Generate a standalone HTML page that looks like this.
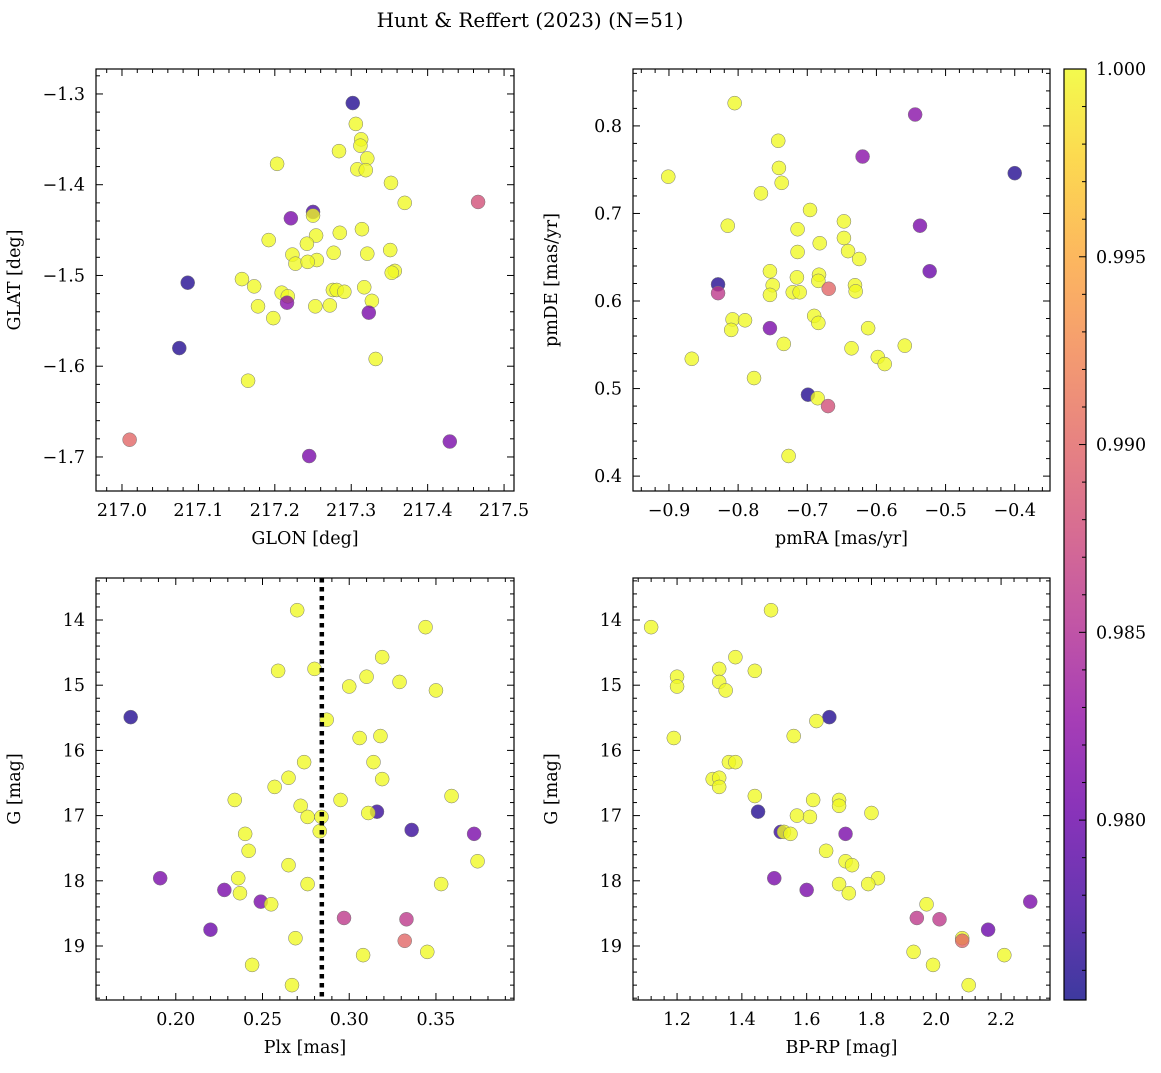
<!DOCTYPE html>
<html><head><meta charset="utf-8"><style>
body{margin:0;background:#fff}
svg text{font-family:"DejaVu Serif","Liberation Serif",serif;fill:#000}
</style></head><body>
<svg id="fig" width="1161" height="1068" xmlns="http://www.w3.org/2000/svg">
<defs><linearGradient id="cg" x1="0" y1="1" x2="0" y2="0">
<stop offset="0" stop-color="#0d0887"/><stop offset="0.1" stop-color="#41049d"/><stop offset="0.2" stop-color="#6a00a8"/><stop offset="0.3" stop-color="#8f0da4"/><stop offset="0.4" stop-color="#b12a90"/><stop offset="0.5" stop-color="#cc4778"/><stop offset="0.6" stop-color="#e16462"/><stop offset="0.7" stop-color="#f2844b"/><stop offset="0.8" stop-color="#fca636"/><stop offset="0.9" stop-color="#fcce25"/><stop offset="1" stop-color="#f0f921"/></linearGradient></defs>
<text x="530" y="27" font-size="20" text-anchor="middle">Hunt &amp; Reffert (2023) (N=51)</text>
</svg>
<script>
// ---- data ----
const glon=[217.302,217.306,217.313,217.312,217.284,217.321,217.308,217.319,217.203,217.352,217.370,217.466,217.250,217.250,217.221,217.314,217.285,217.254,217.242,217.192,217.321,217.351,217.277,217.223,217.255,217.227,217.243,217.357,217.353,217.157,217.086,217.173,217.317,217.276,217.281,217.291,217.209,217.217,217.327,217.216,217.178,217.253,217.272,217.198,217.323,217.075,217.332,217.165,217.010,217.429,217.245];
const glat=[-1.310,-1.333,-1.350,-1.357,-1.363,-1.371,-1.383,-1.384,-1.377,-1.398,-1.420,-1.419,-1.430,-1.434,-1.437,-1.449,-1.453,-1.456,-1.465,-1.461,-1.476,-1.472,-1.475,-1.477,-1.483,-1.487,-1.485,-1.495,-1.497,-1.504,-1.508,-1.512,-1.513,-1.516,-1.516,-1.518,-1.519,-1.523,-1.528,-1.530,-1.534,-1.534,-1.533,-1.547,-1.541,-1.580,-1.592,-1.616,-1.681,-1.683,-1.699];
const probTL=[.976,1,1,1,1,1,1,1,1,1,1,.988,.978,1,.981,1,1,1,1,1,1,1,1,1,1,1,1,1,1,1,.976,1,1,1,1,1,1,1,1,.982,1,1,1,1,.981,.976,1,1,.990,.981,.981];
const pmra=[-0.805,-0.544,-0.742,-0.620,-0.741,-0.737,-0.400,-0.901,-0.767,-0.696,-0.647,-0.537,-0.815,-0.714,-0.647,-0.682,-0.641,-0.714,-0.625,-0.523,-0.754,-0.715,-0.683,-0.684,-0.750,-0.631,-0.829,-0.630,-0.721,-0.711,-0.754,-0.669,-0.829,-0.808,-0.790,-0.690,-0.684,-0.810,-0.612,-0.754,-0.734,-0.636,-0.559,-0.598,-0.588,-0.867,-0.777,-0.699,-0.685,-0.670,-0.727];
const pmde=[0.826,0.813,0.783,0.765,0.752,0.735,0.746,0.742,0.723,0.704,0.691,0.686,0.686,0.682,0.672,0.666,0.657,0.656,0.648,0.634,0.634,0.627,0.630,0.623,0.618,0.618,0.619,0.611,0.610,0.610,0.607,0.614,0.609,0.579,0.578,0.583,0.575,0.567,0.569,0.569,0.551,0.546,0.549,0.536,0.528,0.534,0.512,0.493,0.489,0.480,0.423];
const probTR=[1,.982,1,.982,1,1,.976,1,1,1,1,.981,1,1,1,1,1,1,1,.980,1,1,1,1,1,1,.976,1,1,1,1,.990,.986,1,1,1,1,1,1,.981,1,1,1,1,1,1,1,.976,1,.988,1];
const plx=[0.270,0.344,0.319,0.259,0.280,0.310,0.329,0.300,0.350,0.174,0.287,0.306,0.318,0.274,0.314,0.265,0.319,0.257,0.359,0.234,0.295,0.272,0.316,0.311,0.276,0.284,0.336,0.240,0.283,0.372,0.242,0.265,0.191,0.236,0.276,0.353,0.374,0.237,0.228,0.249,0.255,0.297,0.333,0.220,0.269,0.332,0.308,0.345,0.244,0.267];
const gBL=[13.85,14.11,14.57,14.78,14.75,14.87,14.95,15.02,15.08,15.49,15.53,15.81,15.78,16.18,16.18,16.42,16.44,16.56,16.70,16.76,16.76,16.85,16.94,16.96,17.02,17.02,17.22,17.28,17.24,17.28,17.54,17.76,17.96,17.96,18.05,18.05,17.70,18.19,18.14,18.32,18.36,18.57,18.59,18.75,18.88,18.92,19.14,19.09,19.29,19.60];
const probBL=[1,1,1,1,1,1,1,1,1,.976,1,1,1,1,1,1,1,1,1,1,1,1,.977,1,1,1,.977,1,1,.981,1,1,.981,1,1,1,1,1,.981,.981,1,.986,.986,.980,1,.990,1,1,1,1];
const bprp=[1.12,1.49,1.20,1.20,1.33,1.38,1.33,1.35,1.44,1.67,1.63,1.19,1.56,1.36,1.38,1.31,1.33,1.33,1.44,1.62,1.70,1.70,1.45,1.61,1.57,1.80,1.52,1.53,1.55,1.72,1.66,1.72,1.74,1.82,1.50,1.70,1.79,1.73,1.60,1.97,2.29,1.94,2.01,2.16,2.08,2.08,2.21,1.93,1.99,2.10];
const gBR=[14.11,13.85,14.87,15.02,14.75,14.57,14.95,15.08,14.78,15.49,15.55,15.81,15.78,16.18,16.18,16.44,16.42,16.56,16.70,16.76,16.76,16.85,16.94,17.02,17.00,16.96,17.25,17.25,17.28,17.28,17.54,17.70,17.76,17.96,17.96,18.05,18.05,18.19,18.14,18.36,18.32,18.57,18.59,18.75,18.88,18.92,19.14,19.09,19.29,19.60];
const probBR=[1,1,1,1,1,1,1,1,1,.976,1,1,1,1,1,1,1,1,1,1,1,1,.976,1,1,1,.977,1,1,.981,1,1,1,1,.981,1,1,1,.981,1,.981,.986,.986,.980,1,.990,1,1,1,1];
const plxLine=[0.2842];
const cbarTicks=[0.980,0.985,0.990,0.995,1.000];
const cmin=0.97521,cmax=1.0;

const NS="http://www.w3.org/2000/svg",svg=document.getElementById('fig');
function mk(t,a,p){const e=document.createElementNS(NS,t);for(const k in a)e.setAttribute(k,a[k]);(p||svg).appendChild(e);return e;}
const stops=["#0d0887","#41049d","#6a00a8","#8f0da4","#b12a90","#cc4778","#e16462","#f2844b","#fca636","#fcce25","#f0f921"];
function h2r(h){return [1,3,5].map(i=>parseInt(h.substr(i,2),16));}
function plasma(v){let t=Math.max(0,Math.min(1,(v-cmin)/(cmax-cmin)))*10;let i=Math.min(9,Math.floor(t)),f=t-i;const a=h2r(stops[i]),b=h2r(stops[i+1]);return 'rgb('+a.map((c,k)=>Math.round(c+(b[k]-c)*f)).join(',')+')';}
function fmt(v,d){return (v<0?'\u2212':'')+Math.abs(v).toFixed(d);}
const FS=17.5;
function panel(name,L,T,R,B,xr,yr,xmaj,xmin,xd,ymaj,ymin,yd,xlab,ylab,xs,ys,ps){
  const g=mk('g',{});
  const X=v=>L+(v-xr[0])/(xr[1]-xr[0])*(R-L), Y=v=>T+(v-yr[0])/(yr[1]-yr[0])*(B-T);
  for(let i=0;i<xs.length;i++){const c=mk('circle',{cx:X(xs[i]),cy:Y(ys[i]),r:7,fill:plasma(ps[i]),'fill-opacity':0.78,stroke:'#777','stroke-width':0.5},g);
    }
  const lo=Math.min(...xr),hi=Math.max(...xr);
  for(let k=Math.ceil(lo/xmin-1e-6);k*xmin<=hi+1e-9;k++){const v=k*xmin,x=X(v),mj=Math.abs(v/xmaj-Math.round(v/xmaj))<1e-6,len=mj?7:4;
    mk('line',{x1:x,x2:x,y1:B,y2:B-len,stroke:'#000'},g);mk('line',{x1:x,x2:x,y1:T,y2:T+len,stroke:'#000'},g);
    if(mj){const t=mk('text',{x:x,y:B+25,'font-size':FS,'text-anchor':'middle'},g);t.textContent=fmt(v,xd);}}
  const ylo=Math.min(...yr),yhi=Math.max(...yr);
  for(let k=Math.ceil(ylo/ymin-1e-6);k*ymin<=yhi+1e-9;k++){const v=k*ymin,y=Y(v),mj=Math.abs(v/ymaj-Math.round(v/ymaj))<1e-6,len=mj?7:4;
    mk('line',{x1:L,x2:L+len,y1:y,y2:y,stroke:'#000'},g);mk('line',{x1:R,x2:R-len,y1:y,y2:y,stroke:'#000'},g);
    if(mj){const t=mk('text',{x:L-11,y:y+6,'font-size':FS,'text-anchor':'end'},g);t.textContent=fmt(v,yd);}}
  mk('rect',{x:L,y:T,width:R-L,height:B-T,fill:'none',stroke:'#000','stroke-width':1.2},g);
  const xl=mk('text',{x:(L+R)/2,y:B+53,'font-size':FS,'text-anchor':'middle'},g);xl.textContent=xlab;
  const yl=mk('text',{x:0,y:0,'font-size':FS,'text-anchor':'middle',transform:`translate(${L-76},${(T+B)/2}) rotate(-90)`},g);yl.textContent=ylab;
  return {g,X,Y};
}
panel('glon-glat-panel',96,69,514,491,[216.966,217.513],[-1.2725,-1.7375],0.1,0.02,1,0.1,0.02,1,'GLON [deg]','GLAT [deg]',glon,glat,probTL);
panel('proper-motion-panel',633,69,1050,491,[-0.952,-0.349],[0.865,0.383],0.1,0.02,1,0.1,0.02,1,'pmRA [mas/yr]','pmDE [mas/yr]',pmra,pmde,probTR);
const bl=panel('parallax-mag-panel',96,578,514,1000,[0.154,0.395],[13.356,19.828],0.05,0.01,2,1,0.2,0,'Plx [mas]','G [mag]',plx,gBL,probBL);
plxLine.forEach(v=>{const l=mk('line',{x1:bl.X(v),x2:bl.X(v),y1:578,y2:1000,stroke:'#000','stroke-width':4.5,'stroke-dasharray':'4.5,4.5'},bl.g);});
panel('cmd-panel',633,578,1050,1000,[1.064,2.351],[13.356,19.828],0.2,0.04,1,1,0.2,0,'BP-RP [mag]','G [mag]',bprp,gBR,probBR);
// colorbar
const cb=mk('g',{});
const cT=69,cB=1000,cL=1064,cR=1086,CY=v=>cB-(v-cmin)/(cmax-cmin)*(cB-cT);
mk('rect',{x:cL,y:cT,width:cR-cL,height:cB-cT,fill:'url(#cg)','fill-opacity':0.8},cb);
for(let k=Math.ceil(cmin/0.001);k<=1000;k++){const v=k/1000,y=CY(v),mj=k%5==0;mk('line',{x1:cR,x2:cR-(mj?7:4),y1:y,y2:y,stroke:'#000'},cb);}
cbarTicks.forEach(v=>{const t=mk('text',{x:cR+10,y:CY(v)+6,'font-size':FS},cb);t.textContent=v.toFixed(3);});
mk('rect',{x:cL,y:cT,width:cR-cL,height:cB-cT,fill:'none',stroke:'#000','stroke-width':1.2},cb);
</script>
</body></html>
